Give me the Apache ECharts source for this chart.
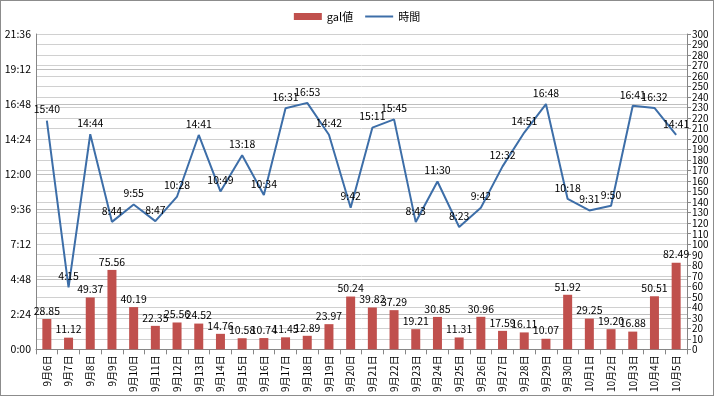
<!DOCTYPE html>
<html><head><meta charset="utf-8">
<script src="https://cdn.jsdelivr.net/npm/echarts@6/dist/echarts.min.js"></script>
<style>html,body{margin:0;padding:0;background:#fff}#c{width:714px;height:396px;box-sizing:border-box;border:1px solid #8c8c8c}</style>
</head><body><div id="c"></div>
<script>
const categories = ['9月6日','9月7日','9月8日','9月9日','9月10日','9月11日','9月12日','9月13日','9月14日','9月15日','9月16日','9月17日','9月18日','9月19日','9月20日','9月21日','9月22日','9月23日','9月24日','9月25日','9月26日','9月27日','9月28日','9月29日','9月30日','10月1日','10月2日','10月3日','10月4日','10月5日'];
const galValues = [28.85,11.12,49.37,75.56,40.19,22.35,25.56,24.52,14.76,10.58,10.74,11.45,12.89,23.97,50.24,39.82,37.29,19.21,30.85,11.31,30.96,17.59,16.11,10.07,51.92,29.25,19.20,16.88,50.51,82.49];
const timeValues = ['15:40','4:15','14:44','8:44','9:55','8:47','10:28','14:41','10:49','13:18','10:34','16:31','16:53','14:42','9:42','15:11','15:45','8:43','11:30','8:23','9:42','12:32','14:51','16:48','10:18','9:31','9:50','16:41','16:32','14:41'];

const toMin = s => { const p = s.split(':'); return (+p[0]) * 60 + (+p[1]); };
const fmt = m => Math.floor(m / 60) + ':' + String(Math.round(m % 60)).padStart(2, '0');
const font = '"Noto Sans CJK JP", "Liberation Sans", sans-serif';

const chart = echarts.init(document.getElementById('c'));
chart.setOption({
  animation: false,
  textStyle: { fontFamily: font },
  legend: {
    top: 5, left: 'center', itemGap: 12, itemWidth: 28, itemHeight: 7,
    textStyle: { fontSize: 11, color: '#000', fontFamily: font },
    data: [{ name: 'gal値', icon: 'rect' }, { name: '時間', icon: 'path://M0,0H28V2H0Z' }]
  },
  grid: { left: 35, right: 26, top: 33, bottom: 45, containLabel: false },
  xAxis: {
    type: 'category', data: categories,
    axisLine: { lineStyle: { color: '#868686' } },
    axisTick: { show: true, interval: 0, alignWithLabel: false, length: 5, lineStyle: { color: '#868686' } },
    axisLabel: { rotate: 90, interval: 0, fontSize: 10, color: '#000', fontFamily: font, margin: 6 }
  },
  yAxis: [
    {
      type: 'value', min: 0, max: 1296, interval: 144, position: 'left',
      axisLine: { show: true, lineStyle: { color: '#868686' } },
      axisTick: { show: false },
      axisLabel: { formatter: v => fmt(v), fontSize: 10.5, color: '#000', fontFamily: font, margin: 5 },
      splitLine: { show: true, lineStyle: { color: '#bfbfbf' } }
    },
    {
      type: 'value', min: 0, max: 300, interval: 10, position: 'right',
      axisLine: { show: true, lineStyle: { color: '#868686' } },
      axisTick: { show: true, length: 4, lineStyle: { color: '#868686' } },
      axisLabel: { fontSize: 10, color: '#000', fontFamily: font, margin: 5 },
      splitLine: { show: true, lineStyle: { color: '#d0d0d0' } }
    }
  ],
  series: [
    {
      name: 'gal値', type: 'bar', yAxisIndex: 1, data: galValues, barWidth: 9,
      itemStyle: { color: '#c0504d' },
      label: { show: true, position: 'top', fontSize: 10.5, color: '#000', fontFamily: font, formatter: p => p.value.toFixed(2), distance: 3 }
    },
    {
      name: '時間', type: 'line', yAxisIndex: 0, data: timeValues.map(toMin),
      symbol: 'circle', symbolSize: 0, showSymbol: true,
      lineStyle: { color: '#3d6ea8', width: 2 }, itemStyle: { color: '#3d6ea8' },
      label: { show: true, position: 'top', fontSize: 10.5, color: '#000', fontFamily: font, formatter: p => fmt(p.value), distance: 6 }
    }
  ]
});
</script></body></html>
